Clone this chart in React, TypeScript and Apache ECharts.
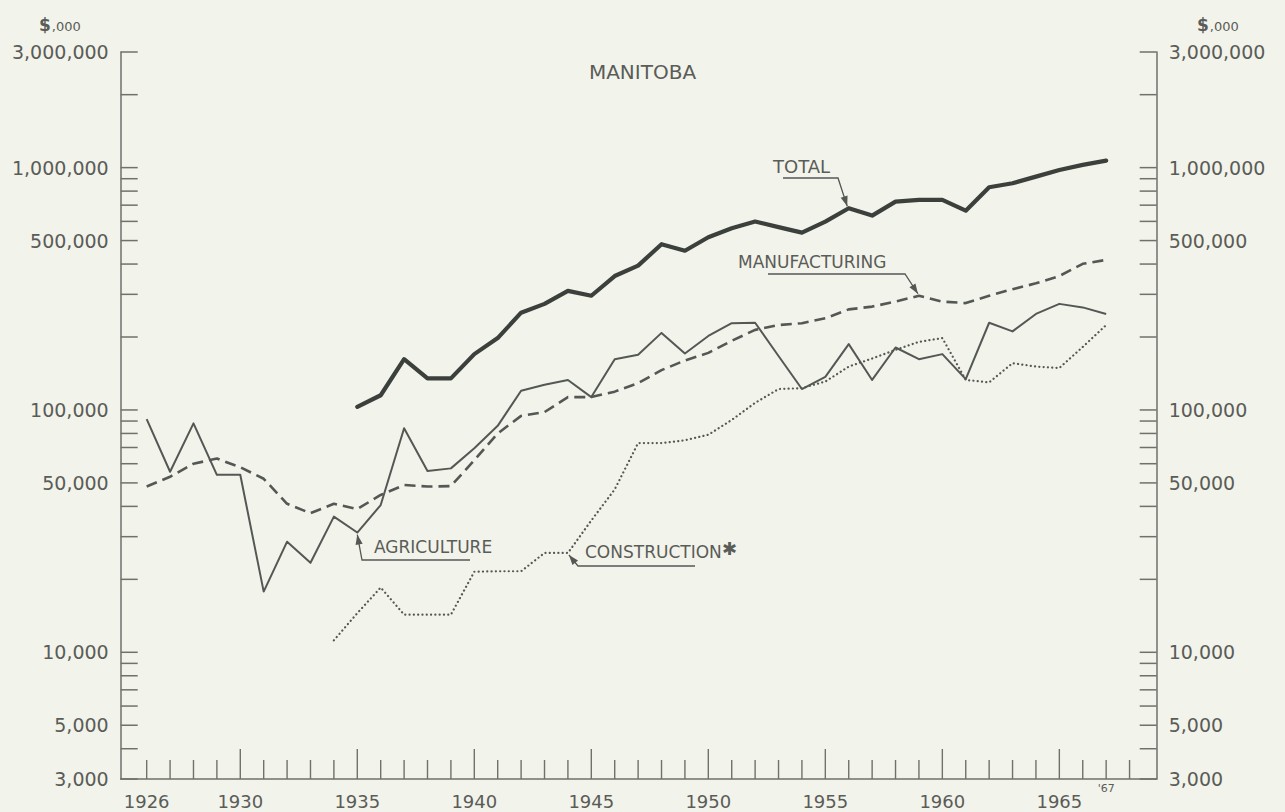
import React, { useEffect, useRef } from "react";
import * as echarts from "echarts";

// ---------- data ----------
const years = [
  1926, 1927, 1928, 1929, 1930, 1931, 1932, 1933, 1934, 1935,
  1936, 1937, 1938, 1939, 1940, 1941, 1942, 1943, 1944, 1945,
  1946, 1947, 1948, 1949, 1950, 1951, 1952, 1953, 1954, 1955,
  1956, 1957, 1958, 1959, 1960, 1961, 1962, 1963, 1964, 1965,
  1966, 1967,
];

// thousands of dollars
const total = [
  null, null, null, null, null, null, null, null, null, 103000,
  115000, 162000, 135000, 135000, 170000, 198000, 252000, 274000, 310000, 296000,
  357000, 394000, 483000, 454000, 516000, 562000, 599000, 568000, 539000, 599000,
  680000, 634000, 724000, 736000, 736000, 664000, 830000, 862000, 918000, 978000,
  1026000, 1069000,
];

const manufacturing = [
  48300, 53000, 60000, 63000, 58000, 52000, 41000, 37500, 41000, 39000,
  44600, 49000, 48300, 48500, 62000, 80000, 94500, 98000, 113000, 113000,
  119000, 129000, 146000, 160000, 172000, 193000, 214000, 224000, 228000, 239000,
  260000, 267000, 280000, 296000, 280000, 276000, 296000, 315000, 333000, 357000,
  401000, 416000,
];

const agriculture = [
  91600, 55600, 88000, 54000, 54000, 17800, 28600, 23400, 36300, 31200,
  40500, 84000, 56000, 57400, 69500, 86000, 120000, 127000, 133000, 113000,
  162000, 169000, 208000, 171000, 202000, 228000, 229000, 167000, 122000, 137000,
  187000, 133000, 181000, 162000, 170000, 134000, 229000, 211000, 249000, 274000,
  265000, 249000,
];

const construction = [
  null, null, null, null, null, null, null, null, 11200, 14500,
  18500, 14300, 14300, 14300, 21500, 21600, 21600, 25700, 25700, 35000,
  47000, 73000, 73000, 75000, 79000, 91000, 107000, 122000, 123000, 131000,
  151000, 163000, 177000, 191000, 198000, 133000, 130000, 156000, 151000, 149000,
  182000, 224000,
];

const yTickValues = [
  3000, 4000, 5000, 6000, 7000, 8000, 9000,
  10000, 20000, 30000, 40000, 50000, 60000, 70000, 80000, 90000,
  100000, 200000, 300000, 400000, 500000, 600000, 700000, 800000, 900000,
  1000000, 2000000, 3000000,
];
const yLabelValues = [3000, 5000, 10000, 50000, 100000, 500000, 1000000, 3000000];

const xTickYears = [
  1926, 1927, 1928, 1929, 1930, 1931, 1932, 1933, 1934, 1935,
  1936, 1937, 1938, 1939, 1940, 1941, 1942, 1943, 1944, 1945,
  1946, 1947, 1948, 1949, 1950, 1951, 1952, 1953, 1954, 1955,
  1956, 1957, 1958, 1959, 1960, 1961, 1962, 1963, 1964, 1965,
  1966, 1967, 1968,
];
const xLabelYears = [1926, 1930, 1935, 1940, 1945, 1950, 1955, 1960, 1965];
const shortLabelYear = 1967;

const X_MIN = 1924.89;
const X_MAX = 1969.16;
const Y_MIN = 3000;
const Y_MAX = 3000000;

// ---------- styles ----------
const BG = "#f2f3ea";
const AXIS = "#6f716c";
const TEXT = "#5a5c58";
const LINE_DARK = "#3c403d";
const LINE = "#545855";
const FONT = '"DejaVu Sans", "Open Sans", sans-serif';

function fmt(v: number) {
  return v.toLocaleString("en-US");
}

function pairs(arr: (number | null)[]) {
  const out: [number, number][] = [];
  arr.forEach((v, i) => {
    if (v != null) out.push([years[i], v]);
  });
  return out;
}

function arrowHead(from: number[], tip: number[], len = 10, half = 3.6) {
  const dx = tip[0] - from[0];
  const dy = tip[1] - from[1];
  const d = Math.sqrt(dx * dx + dy * dy) || 1;
  const ux = dx / d;
  const uy = dy / d;
  const bx = tip[0] - ux * len;
  const by = tip[1] - uy * len;
  return [
    [tip[0], tip[1]],
    [bx - uy * half, by + ux * half],
    [bx + uy * half, by - ux * half],
  ];
}

export default function App() {
  const ref = useRef<HTMLDivElement>(null);

  useEffect(() => {
    document.body.style.margin = "0";
    document.body.style.background = BG;
    if (!ref.current) return;
    const chart = echarts.init(ref.current, null, { renderer: "svg" });

    const option: any = {
      animation: false,
      backgroundColor: BG,
      grid: { left: 120.7, right: 1285 - 1156.7, top: 52, bottom: 812 - 779 },
      xAxis: {
        type: "value",
        min: X_MIN,
        max: X_MAX,
        axisLine: { show: true, lineStyle: { color: AXIS, width: 1.5 } },
        axisTick: { show: false },
        axisLabel: { show: false },
        splitLine: { show: false },
      },
      yAxis: [
        {
          type: "log",
          logBase: 10,
          min: Y_MIN,
          max: Y_MAX,
          position: "left",
          axisLine: { show: true, lineStyle: { color: AXIS, width: 1.5 } },
          axisTick: { show: false },
          axisLabel: { show: false },
          splitLine: { show: false },
        },
        {
          type: "log",
          logBase: 10,
          min: Y_MIN,
          max: Y_MAX,
          position: "right",
          axisLine: { show: true, lineStyle: { color: AXIS, width: 1.5 } },
          axisTick: { show: false },
          axisLabel: { show: false },
          splitLine: { show: false },
        },
      ],
      series: [
        {
          name: "yticks",
          type: "custom",
          clip: false,
          silent: true,
          data: yTickValues.map((v) => [X_MIN, v]),
          renderItem: (params: any, api: any) => {
            const v = api.value(1);
            const pl = api.coord([X_MIN, v]);
            const pr = api.coord([X_MAX, v]);
            const children: any[] = [
              {
                type: "line",
                shape: { x1: pl[0], y1: pl[1], x2: pl[0] + 17, y2: pl[1] },
                style: { stroke: AXIS, lineWidth: 1.5 },
              },
              {
                type: "line",
                shape: { x1: pr[0] - 17, y1: pr[1], x2: pr[0], y2: pr[1] },
                style: { stroke: AXIS, lineWidth: 1.5 },
              },
            ];
            if (yLabelValues.indexOf(v) >= 0) {
              children.push({
                type: "text",
                style: {
                  text: fmt(v),
                  x: pl[0] - 12,
                  y: pl[1],
                  align: "right",
                  verticalAlign: "middle",
                  fill: TEXT,
                  fontSize: 19,
                  fontFamily: FONT,
                },
              });
              children.push({
                type: "text",
                style: {
                  text: fmt(v),
                  x: pr[0] + 12,
                  y: pr[1],
                  align: "left",
                  verticalAlign: "middle",
                  fill: TEXT,
                  fontSize: 19,
                  fontFamily: FONT,
                },
              });
            }
            return { type: "group", children };
          },
        },
        {
          name: "xticks",
          type: "custom",
          clip: false,
          silent: true,
          data: xTickYears.map((y) => [y, Y_MIN]),
          renderItem: (params: any, api: any) => {
            const yr = api.value(0);
            const p = api.coord([yr, Y_MIN]);
            const len = yr % 5 === 0 ? 30 : 19;
            const children: any[] = [
              {
                type: "line",
                shape: { x1: p[0], y1: p[1], x2: p[0], y2: p[1] - len },
                style: { stroke: AXIS, lineWidth: 1.4 },
              },
            ];
            if (xLabelYears.indexOf(yr) >= 0) {
              children.push({
                type: "text",
                style: {
                  text: String(yr),
                  x: p[0],
                  y: p[1] + 13,
                  align: "center",
                  verticalAlign: "top",
                  fill: TEXT,
                  fontSize: 18,
                  fontFamily: FONT,
                },
              });
            }
            if (yr === shortLabelYear) {
              children.push({
                type: "text",
                style: {
                  text: "'" + String(yr).slice(2),
                  x: p[0],
                  y: p[1] + 4,
                  align: "center",
                  verticalAlign: "top",
                  fill: TEXT,
                  fontSize: 11,
                  fontFamily: FONT,
                },
              });
            }
            return { type: "group", children };
          },
        },
        {
          name: "TOTAL",
          type: "line",
          data: pairs(total),
          showSymbol: false,
          lineStyle: { color: LINE_DARK, width: 4.2, join: "round", cap: "round" },
          z: 5,
        },
        {
          name: "MANUFACTURING",
          type: "line",
          data: pairs(manufacturing),
          showSymbol: false,
          lineStyle: { color: LINE, width: 2.6, type: [11, 6] },
          z: 4,
        },
        {
          name: "AGRICULTURE",
          type: "line",
          data: pairs(agriculture),
          showSymbol: false,
          lineStyle: { color: LINE, width: 2, join: "round" },
          z: 4,
        },
        {
          name: "CONSTRUCTION",
          type: "line",
          data: pairs(construction),
          showSymbol: false,
          lineStyle: { color: LINE, width: 2.2, type: [0.1, 4.2], cap: "round" },
          z: 4,
        },
      ],
    };

    chart.setOption(option);

    const px = (yr: number, arr: (number | null)[]) =>
      chart.convertToPixel({ xAxisIndex: 0, yAxisIndex: 0 }, [
        yr,
        arr[years.indexOf(yr)] as number,
      ]) as number[];

    const annText = (text: string, x: number, y: number, size = 17) => ({
      type: "text",
      x,
      y,
      style: { text, fill: TEXT, fontSize: size, fontFamily: FONT, verticalAlign: "top" },
    });

    const leader = (pts: number[][], tip: number[]) => {
      const prev = pts[pts.length - 1];
      return [
        {
          type: "polyline",
          shape: { points: [...pts, tip] },
          style: { stroke: LINE, lineWidth: 1.3, fill: "none" },
        },
        {
          type: "polygon",
          shape: { points: arrowHead(prev, tip) },
          style: { fill: LINE },
        },
      ];
    };

    const tTotal = px(1956, total);
    const tManu = px(1959, manufacturing);
    const tAgri = px(1935, agriculture);
    const tCons = px(1944, construction);

    const graphic: any[] = [
      {
        type: "text",
        left: "center",
        x: 628,
        y: 62,
        style: {
          text: "MANITOBA",
          x: 0,
          fill: TEXT,
          fontSize: 20,
          fontFamily: FONT,
          align: "center",
          verticalAlign: "top",
        },
      },
      {
        type: "text",
        x: 39,
        y: 16,
        style: {
          text: "{s|$}{n|,000}",
          fill: TEXT,
          fontFamily: FONT,
          rich: {
            s: { fontSize: 17, fontWeight: "bold", fill: TEXT, fontFamily: FONT },
            n: { fontSize: 13, fill: TEXT, fontFamily: FONT, padding: [4, 0, 0, 1] },
          },
        },
      },
      {
        type: "text",
        x: 1197,
        y: 16,
        style: {
          text: "{s|$}{n|,000}",
          fill: TEXT,
          fontFamily: FONT,
          rich: {
            s: { fontSize: 17, fontWeight: "bold", fill: TEXT, fontFamily: FONT },
            n: { fontSize: 13, fill: TEXT, fontFamily: FONT, padding: [4, 0, 0, 1] },
          },
        },
      },
      annText("TOTAL", 773, 157, 18),
      ...leader(
        [
          [783, 178],
          [838, 178],
        ],
        [tTotal[0] - 1.5, tTotal[1] - 2]
      ),
      annText("MANUFACTURING", 738, 253, 17),
      ...leader(
        [
          [768, 274],
          [905, 274],
        ],
        [tManu[0] - 1, tManu[1] - 2]
      ),
      annText("AGRICULTURE", 374, 538, 17),
      ...leader(
        [
          [470, 560],
          [362, 560],
        ],
        [tAgri[0], tAgri[1] + 2]
      ),
      annText("CONSTRUCTION", 585, 543, 17),
      annText("\u2731", 722, 539, 18),
      ...leader(
        [
          [695, 566],
          [578, 566],
        ],
        [tCons[0] + 1, tCons[1] + 2]
      ),
    ];

    chart.setOption({ graphic });

    return () => chart.dispose();
  }, []);

  return <div ref={ref} style={{ width: 1285, height: 812, background: BG }} />;
}
